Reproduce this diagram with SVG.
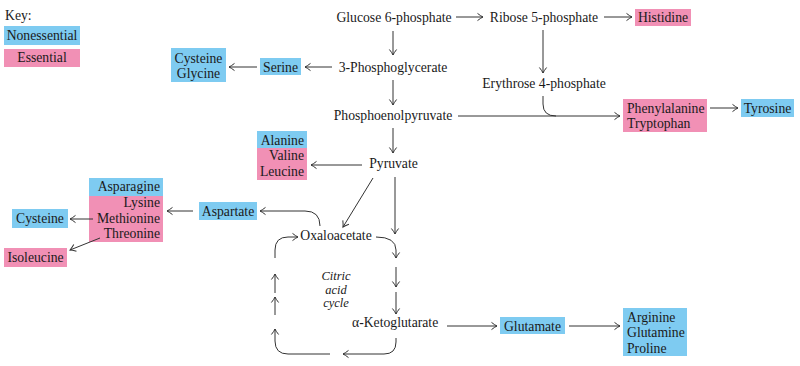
<svg xmlns="http://www.w3.org/2000/svg" width="800" height="366" viewBox="0 0 800 366">
<defs>
<marker id="ah" markerUnits="userSpaceOnUse" markerWidth="12" markerHeight="12" viewBox="-7 -6 9 12" refX="0" refY="0" orient="auto">
<path d="M-5.5,-3.6 Q-2,-0.8 0,0 Q-2,0.8 -5.5,3.6" fill="none" stroke="#333" stroke-width="1"/>
</marker>
<style>
text{font-family:"Liberation Serif","Times New Roman",serif;font-size:13.7px;fill:#1a1a1a}
.m{text-anchor:middle}
.e{text-anchor:end}
.it{font-style:italic;font-size:12.5px;text-anchor:middle}
.b{fill:#7ecbf1}
.p{fill:#f190b5}
.c{fill:none;stroke:#333;stroke-width:1}
.a{marker-end:url(#ah)}
</style>
</defs>
<rect width="800" height="366" fill="#fff"/>

<g id="key">
<text x="5" y="20">Key:</text>
<rect class="b" x="4" y="26" width="76" height="19"/>
<text class="m" x="42" y="40">Nonessential</text>
<rect class="p" x="4" y="49" width="76" height="18"/>
<text class="m" x="42" y="62">Essential</text>
</g>

<g id="glucose6p"><text class="m" x="394" y="22">Glucose 6-phosphate</text></g>
<g id="ribose5p"><text class="m" x="544" y="22">Ribose 5-phosphate</text></g>
<g id="histidine"><rect class="p" x="635" y="9" width="56" height="17"/><text class="m" x="663" y="22">Histidine</text></g>
<g id="erythrose4p"><text class="m" x="544" y="88">Erythrose 4-phosphate</text></g>
<g id="phosphoglycerate"><text class="m" x="393" y="72">3-Phosphoglycerate</text></g>
<g id="serine"><rect class="b" x="260" y="58" width="41" height="17"/><text class="m" x="280.5" y="72">Serine</text></g>
<g id="cysteine-glycine"><rect class="b" x="171" y="48" width="55" height="34"/><text class="m" x="198.5" y="63">Cysteine</text><text class="m" x="198.5" y="78">Glycine</text></g>
<g id="pep"><text class="m" x="393" y="120">Phosphoenolpyruvate</text></g>
<g id="phe-trp"><rect class="p" x="623" y="99" width="84" height="33"/><text x="627" y="113">Phenylalanine</text><text x="627" y="128">Tryptophan</text></g>
<g id="tyrosine"><rect class="b" x="741" y="99" width="53" height="18"/><text class="m" x="767.5" y="113">Tyrosine</text></g>
<g id="pyruvate"><text class="m" x="393.5" y="168">Pyruvate</text></g>
<g id="ala-val-leu"><rect class="b" x="257" y="131" width="50" height="17"/><rect class="p" x="257" y="148" width="50" height="32"/><text class="e" x="304" y="144.5">Alanine</text><text class="e" x="304" y="160">Valine</text><text class="e" x="304" y="175.5">Leucine</text></g>
<g id="aspartate"><rect class="b" x="199" y="202" width="58" height="18"/><text class="m" x="228" y="216">Aspartate</text></g>
<g id="asn-lys-met-thr"><rect class="b" x="89" y="178" width="74" height="18"/><rect class="p" x="89" y="196" width="74" height="46"/><text class="e" x="160" y="191">Asparagine</text><text class="e" x="160" y="207">Lysine</text><text class="e" x="160" y="222.5">Methionine</text><text class="e" x="160" y="238">Threonine</text></g>
<g id="cysteine2"><rect class="b" x="12" y="209" width="56" height="19"/><text class="m" x="40" y="223">Cysteine</text></g>
<g id="isoleucine"><rect class="p" x="4" y="248" width="63" height="19"/><text class="m" x="35.5" y="262">Isoleucine</text></g>
<g id="oxaloacetate"><text class="m" x="336" y="240">Oxaloacetate</text></g>
<g id="cycle-label"><text class="it" x="336" y="280">Citric</text><text class="it" x="336" y="293.5">acid</text><text class="it" x="336" y="307">cycle</text></g>
<g id="akg"><text x="352" y="327">α-Ketoglutarate</text></g>
<g id="glutamate"><rect class="b" x="500" y="317" width="65" height="17"/><text class="m" x="532.5" y="331">Glutamate</text></g>
<g id="arg-gln-pro"><rect class="b" x="623" y="308" width="64" height="48"/><text x="627" y="321.5">Arginine</text><text x="627" y="337">Glutamine</text><text x="627" y="352.5">Proline</text></g>

<g id="connectors">
<path class="c a" d="M456,17 H483"/>
<path class="c a" d="M604,17 H632"/>
<path class="c a" d="M543,30 V73"/>
<path class="c" d="M543,96 V104 Q543,116 556,116"/>
<path class="c a" d="M458,116 H620"/>
<path class="c a" d="M710,108 H738"/>
<path class="c a" d="M393,31 V55"/>
<path class="c a" d="M393,80 V105"/>
<path class="c a" d="M393,128 V153"/>
<path class="c a" d="M332,67 H305"/>
<path class="c a" d="M257,67 H229"/>
<path class="c a" d="M362,165 H311"/>
<path class="c a" d="M373,178 L343,227"/>
<path class="c a" d="M395,177 V234"/>
<path class="c a" d="M320,226 Q320,211 305,211 H260"/>
<path class="c a" d="M193,211 H167"/>
<path class="c a" d="M93,219 H70"/>
<path class="c a" d="M100,238 L70,250"/>
<path class="c a" d="M376,237 Q396,237 396,250 V258"/>
<path class="c a" d="M396,267 V287"/>
<path class="c a" d="M396,292 V314"/>
<path class="c a" d="M396,338 V342 Q396,354 384,354 H343"/>
<path class="c a" d="M330,354 H288 Q275,354 275,341 V329"/>
<path class="c a" d="M275,315 V297"/>
<path class="c a" d="M275,293 V274"/>
<path class="c a" d="M275,258 V250 Q275,237 288,237 H298"/>
<path class="c a" d="M447,326 H497"/>
<path class="c a" d="M569,326 H620"/>
</g>
</svg>
